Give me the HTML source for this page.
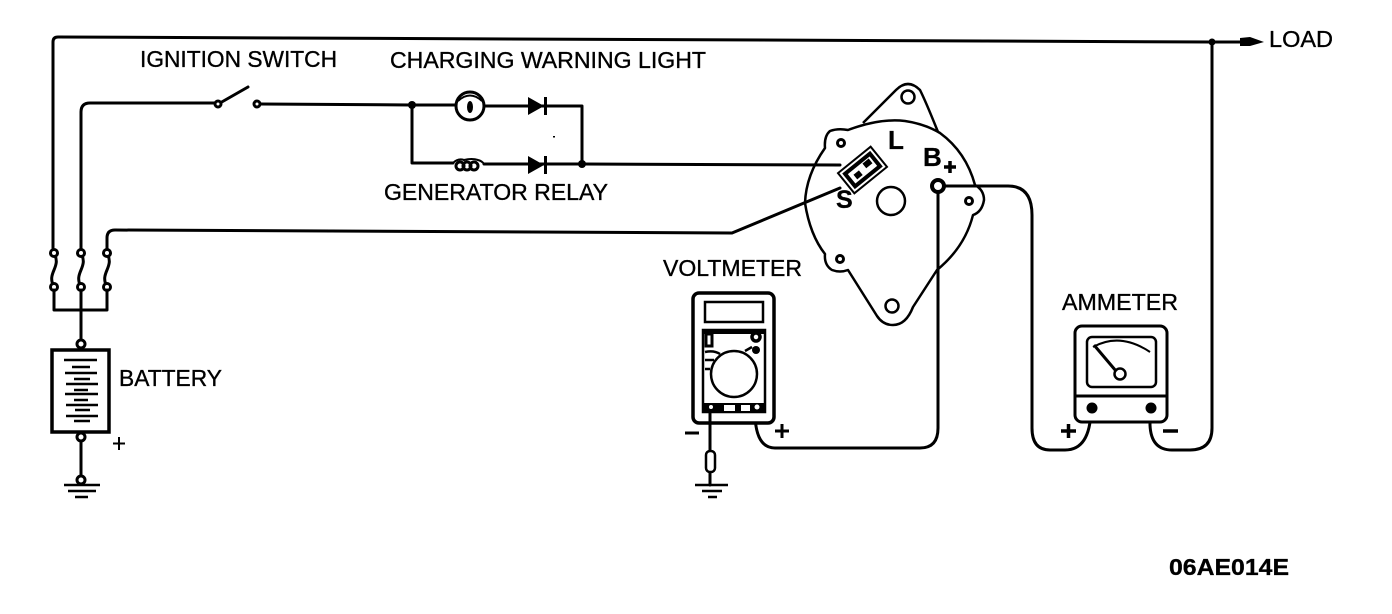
<!DOCTYPE html>
<html><head><meta charset="utf-8"><style>
html,body{margin:0;padding:0;background:#fff;width:1392px;height:614px;overflow:hidden}
svg{display:block}
text{font-family:"Liberation Sans",sans-serif;fill:#000;font-size:23px;stroke:#000;stroke-width:.35px}
.w{fill:none;stroke:#000;stroke-width:3;stroke-linejoin:round;stroke-linecap:round}
.t{fill:none;stroke:#000;stroke-width:2.5;stroke-linejoin:round}
.c{fill:#fff;stroke:#000;stroke-width:3}
.k{fill:#000;stroke:none}
.b{font-weight:bold;stroke-width:.3px}
</style></head><body>
<svg width="1392" height="614" viewBox="0 0 1392 614" xmlns="http://www.w3.org/2000/svg">
<!-- main wires -->
<path class="w" d="M53 253V42Q53 37 58 37L1212 42H1240"/>
<path class="k" d="M1240 38L1250 37L1264 42L1250 46L1240 46Z"/>
<circle class="k" cx="1212" cy="42" r="3.5"/>
<path class="w" d="M1212 42V428Q1212 450 1190 450H1172Q1151 450 1150 425V408"/>
<path class="w" d="M81 253V112Q81 103 90 103H216"/>
<path class="w" d="M107 253V238Q107 230 115 230L732 233L840 188" />
<path class="w" d="M220 103L248 87"/>
<circle class="c" cx="218" cy="104" r="3"/><circle class="c" cx="257" cy="104" r="3"/>
<path class="w" d="M260 104L412 105H456M484 106H582V164"/>
<path class="w" d="M412 105V163H453M484 164H582L840 165"/>
<circle class="k" cx="412" cy="105" r="4"/><circle class="k" cx="582" cy="164" r="4"/>
<circle cx="470" cy="106" r="14" fill="#fff" stroke="#000" stroke-width="3"/>
<path d="M458 101Q470 90 482 101" fill="none" stroke="#000" stroke-width="2"/>
<ellipse class="k" cx="470" cy="107" rx="3" ry="6"/>
<path class="k" d="M528 97L544 106L528 115ZM544 97h3v18h-3Z"/>
<path class="k" d="M528 156L544 165L528 174ZM544 156h3v18h-3Z"/>
<path d="M453 163Q458 158 464 160Q472 158 478 160Q482 161 484 164" fill="none" stroke="#000" stroke-width="2"/>
<circle cx="460" cy="166" r="4" fill="none" stroke="#000" stroke-width="3"/>
<circle cx="467" cy="166" r="4" fill="none" stroke="#000" stroke-width="3"/>
<circle cx="474" cy="166" r="4" fill="none" stroke="#000" stroke-width="3"/>
<!-- fuses and battery -->
<path class="w" d="M54 253C62 268 46 272 54 287M81 253C89 268 73 272 81 287M107 253C115 268 99 272 107 287"/>
<circle class="c" cx="54" cy="253" r="3.5"/><circle class="c" cx="81" cy="253" r="3.5"/><circle class="c" cx="107" cy="253" r="3.5"/>
<circle class="c" cx="54" cy="287" r="3.5"/><circle class="c" cx="81" cy="287" r="3.5"/><circle class="c" cx="107" cy="287" r="3.5"/>
<path class="w" d="M54 290V310H107V290M81 290V342M81 440V476"/>
<rect x="52" y="350" width="57" height="82" fill="#fff" stroke="#000" stroke-width="3.5"/>
<circle class="c" cx="81" cy="344" r="4"/><circle class="c" cx="81" cy="437" r="4"/><circle class="c" cx="81" cy="480" r="4"/>
<path d="M64 360H97M72 367H90M65 373H97M74 379H90M66 384H98M74 390H88M65 394H98M74 400H88M66 405H98M75 410H90M66 416H98M74 421H90" stroke="#000" stroke-width="2.500" fill="none"/>
<path d="M64 485H100M68 491H96M75 497H88" stroke="#000" stroke-width="2.5" fill="none"/>
<path d="M119 437V450M113 443.500H125" stroke="#000" stroke-width="2" fill="none"/>
<!-- alternator -->
<path class="t" d="M863 123L896 90Q908 78 920 90Q926 102 938 132"/>
<path class="t" d="M848 130Q880 118 905 121Q925 124 940 133Q966 152 975 185Q984 190 984 200Q982 212 973 215Q965 247 937 270L913 307Q906 325 893 325Q883 325 877 316L848 270Q840 273 832 270Q824 265 825 254Q810 235 805 203Q806 175 825 148Q824 136 830 131Q838 128 848 130Z"/>
<circle class="t" cx="908" cy="97" r="6.500"/>
<circle class="t" cx="892" cy="306" r="6.500"/>
<circle class="t" cx="891" cy="201" r="14"/>
<circle class="c" cx="841" cy="143" r="3.500"/><circle class="c" cx="969" cy="201" r="3.500"/><circle class="c" cx="840" cy="259" r="3.500"/>
<g transform="translate(862.500 170) rotate(-39)">
<rect x="-21" y="-13" width="42" height="26" fill="#fff" stroke="#000" stroke-width="2"/>
<rect x="-18" y="-10" width="36" height="20" fill="#000"/>
<rect x="-14" y="-6" width="28" height="12" fill="#fff"/>
<rect x="-10" y="-2" width="7" height="6" fill="#000"/><rect x="4" y="-5" width="8" height="6" fill="#000"/>
</g>
<circle cx="938" cy="186" r="6" fill="#fff" stroke="#000" stroke-width="4"/>
<path class="w" d="M944 186H1008Q1032 186 1032 215V428Q1032 450 1050 450H1065Q1090 450 1091 410"/>
<path class="w" d="M938 192V428Q938 448 920 448H775Q756 448 755 415"/>
<text x="888" y="149" class="b" style="font-size:26px">L</text>
<text x="923" y="166" class="b" style="font-size:26px">B</text>
<path d="M944 167H956M950 161V173" stroke="#000" stroke-width="3.500" fill="none"/>
<text x="836" y="208" class="b" style="font-size:25px">S</text>
<!-- voltmeter -->
<rect x="693" y="293" width="81" height="130" rx="6" fill="#fff" stroke="#000" stroke-width="3.500"/>
<rect x="705" y="302" width="58" height="20" fill="#fff" stroke="#000" stroke-width="2.500"/>
<rect x="703" y="330" width="62" height="82" fill="#fff" stroke="#000" stroke-width="2.500"/>
<rect x="703" y="330" width="62" height="4" class="k"/>
<rect x="706" y="334" width="6" height="12" fill="#fff" stroke="#000" stroke-width="3"/>
<circle cx="756" cy="337" r="4" fill="#fff" stroke="#000" stroke-width="3.500"/>
<circle cx="756" cy="350" r="4" fill="#000"/>
<path d="M745 351L752 347" stroke="#000" stroke-width="2.500"/>
<path d="M705 352Q714 350 720 354M705 360H714M705 369H710" stroke="#000" stroke-width="2.500" fill="none"/>
<circle cx="734" cy="374" r="23" fill="#fff" stroke="#000" stroke-width="2.500"/>
<rect x="703" y="403" width="62" height="10" fill="#000"/>
<rect x="724" y="405" width="11" height="6" fill="#fff"/><rect x="741" y="405" width="9" height="6" fill="#fff"/>
<circle cx="711" cy="407" r="3" fill="#fff" stroke="#000" stroke-width="2"/>
<circle cx="757" cy="407" r="2.500" fill="#fff"/>
<path class="w" d="M710 413V450M710 473V485"/>
<rect x="706" y="451" width="9" height="21" rx="4" fill="#fff" stroke="#000" stroke-width="2.500"/>
<path d="M695 485H728M702 491H722M708 497H717" stroke="#000" stroke-width="2.500" fill="none"/>
<path d="M685 433H699M775 431H789M782 424V438" stroke="#000" stroke-width="3" fill="none"/>
<!-- ammeter -->
<rect x="1075" y="326" width="92" height="96" rx="7" fill="#fff" stroke="#000" stroke-width="3"/>
<path d="M1075 396H1167" stroke="#000" stroke-width="3"/>
<rect x="1087" y="337" width="69" height="50" rx="5" fill="#fff" stroke="#000" stroke-width="2.500"/>
<path d="M1093 347Q1120 332 1150 352" fill="none" stroke="#000" stroke-width="2"/>
<path d="M1094 345L1116 371" stroke="#000" stroke-width="3"/>
<circle cx="1120" cy="374" r="5.500" fill="#fff" stroke="#000" stroke-width="2.500"/>
<circle class="k" cx="1092" cy="408" r="5.500"/><circle class="k" cx="1151" cy="408" r="5.500"/>
<path d="M1061 431H1076M1068.500 424V438M1163 431H1178" stroke="#000" stroke-width="3.500" fill="none"/>
<!-- labels -->
<text x="140" y="67" textLength="197" lengthAdjust="spacingAndGlyphs">IGNITION SWITCH</text>
<text x="390" y="68" textLength="316" lengthAdjust="spacingAndGlyphs">CHARGING WARNING LIGHT</text>
<text x="384" y="200" textLength="224" lengthAdjust="spacingAndGlyphs">GENERATOR RELAY</text>
<text x="1269" y="47" textLength="64" lengthAdjust="spacingAndGlyphs">LOAD</text>
<text x="663" y="276" textLength="139" lengthAdjust="spacingAndGlyphs">VOLTMETER</text>
<text x="1062" y="310" textLength="116" lengthAdjust="spacingAndGlyphs">AMMETER</text>
<text x="119" y="386" textLength="103" lengthAdjust="spacingAndGlyphs">BATTERY</text>
<text x="1169" y="575" class="b" textLength="120" lengthAdjust="spacingAndGlyphs" style="font-weight:bold">06AE014E</text>
<rect x="553" y="136" width="2" height="1.500" class="k"/>
</svg>
</body></html>
